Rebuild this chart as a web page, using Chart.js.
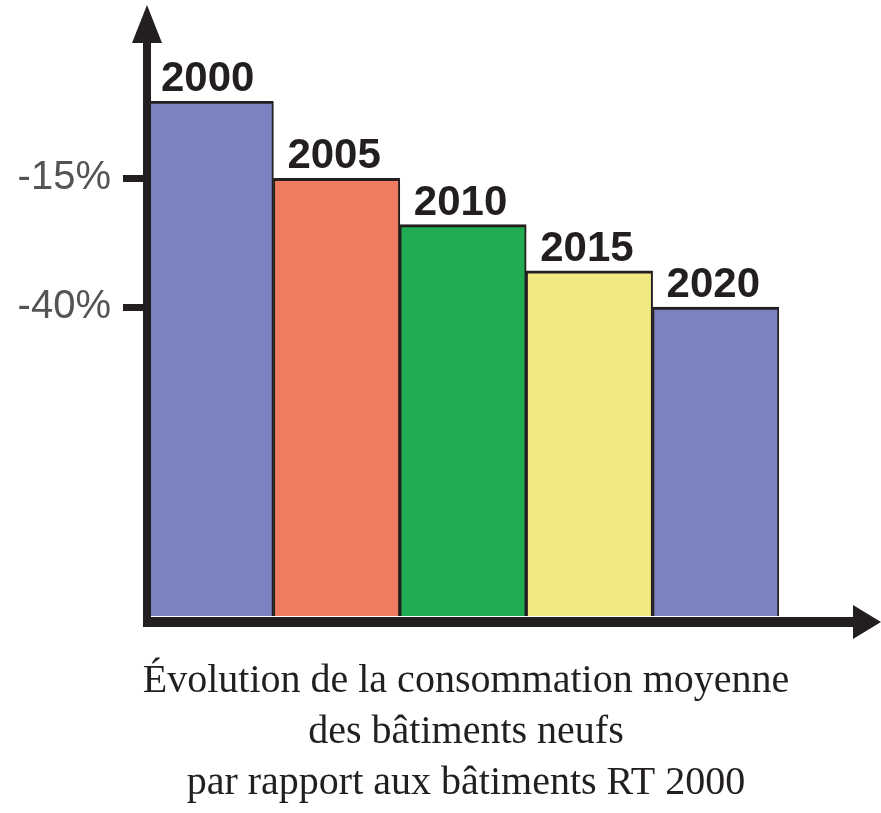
<!DOCTYPE html>
<html lang="fr">
<head>
<meta charset="utf-8">
<title>Évolution de la consommation moyenne</title>
<script src="https://cdn.jsdelivr.net/npm/chart.js@4"></script>
<style>
    html, body { margin: 0; padding: 0; background: #ffffff; }
    #wrap { width: 881px; height: 813px; position: relative; }
</style>
</head>
<body>
<div id="wrap"><canvas id="barchart"></canvas></div>
<script>
// Données (écart par rapport aux bâtiments RT 2000, en %)
const years = ['2000', '2005', '2010', '2015', '2020'];
const reductions = [0, -15, -24, -33, -40];
const tickValues = [-15, -40];
const tickLabels = ['-15%', '-40%'];
const barColors = ['#7b82bf', '#f07c62', '#22ac51', '#f0e881', '#7b82bf'];
const caption = [
    'Évolution de la consommation moyenne',
    'des bâtiments neufs',
    'par rapport aux bâtiments RT 2000'
];

const ink = '#231f20';

// axes fléchés, étiquettes des années et légende sous le graphique
const decor = {
    id: 'decor',
    afterDatasetsDraw(chart) {
        const ctx = chart.ctx;
        const meta = chart.getDatasetMeta(0);
        ctx.save();
        ctx.fillStyle = ink;
        ctx.font = 'bold 42px "Liberation Sans", Arial, sans-serif';
        ctx.textAlign = 'left';
        ctx.textBaseline = 'alphabetic';
        meta.data.forEach(function (bar, i) {
            const top = Math.min(bar.y, bar.base);
            ctx.fillText(years[i], bar.x - bar.width / 2 + 14, top - 10);
        });
        ctx.restore();
    },
    afterDraw(chart) {
        const ctx = chart.ctx;
        const area = chart.chartArea;
        const x0 = area.left;
        const y0 = area.bottom + 6;
        ctx.save();
        ctx.fillStyle = ink;
        // axe vertical
        ctx.fillRect(x0 - 4, 40, 8, y0 + 5 - 40);
        ctx.beginPath();
        ctx.moveTo(x0, 5);
        ctx.lineTo(x0 + 15, 43);
        ctx.lineTo(x0 - 15, 43);
        ctx.closePath();
        ctx.fill();
        // axe horizontal
        ctx.fillRect(x0 - 4, y0 - 5, 858 - x0, 10);
        ctx.beginPath();
        ctx.moveTo(chart.width, y0);
        ctx.lineTo(853, y0 - 17);
        ctx.lineTo(853, y0 + 17);
        ctx.closePath();
        ctx.fill();
        // légende
        ctx.font = '40px "Liberation Serif", "Times New Roman", serif';
        ctx.textAlign = 'center';
        ctx.textBaseline = 'alphabetic';
        caption.forEach(function (line, i) {
            ctx.fillText(line, 466, area.bottom + 76 + i * 51);
        });
        ctx.restore();
    }
};

document.addEventListener('DOMContentLoaded', function () {
    const ctx = document.getElementById('barchart');

    new Chart(ctx, {
        type: 'bar',
        data: {
            labels: years,
            datasets: [{
                data: reductions.map(v => [-100, v]),
                backgroundColor: barColors,
                borderColor: ink,
                borderWidth: { top: 3, left: 2, right: 2, bottom: 0 },
                borderSkipped: false,
                barPercentage: 1,
                categoryPercentage: 1
            }]
        },
        options: {
            responsive: true,
            maintainAspectRatio: false,
            animation: false,
            layout: {
                padding: { top: 101, right: 102, bottom: 197, left: 0 }
            },
            scales: {
                x: {
                    display: false
                },
                y: {
                    min: -100,
                    max: 0,
                    afterBuildTicks: function (scale) {
                        scale.ticks = tickValues.map(v => ({ value: v }));
                    },
                    afterFit: function (scale) {
                        scale.width = 147;
                    },
                    ticks: {
                        padding: 12,
                        color: '#545454',
                        font: { family: '"Liberation Sans", Arial, sans-serif', size: 40 },
                        callback: function (value) {
                            return tickLabels[tickValues.indexOf(value)];
                        }
                    },
                    grid: {
                        drawOnChartArea: false,
                        drawTicks: true,
                        tickLength: 24,
                        lineWidth: 7,
                        tickWidth: 7,
                        tickColor: ink
                    },
                    border: { display: false }
                }
            },
            plugins: {
                legend: { display: false },
                tooltip: { enabled: false }
            }
        },
        plugins: [decor]
    });
});
</script>
</body>
</html>
